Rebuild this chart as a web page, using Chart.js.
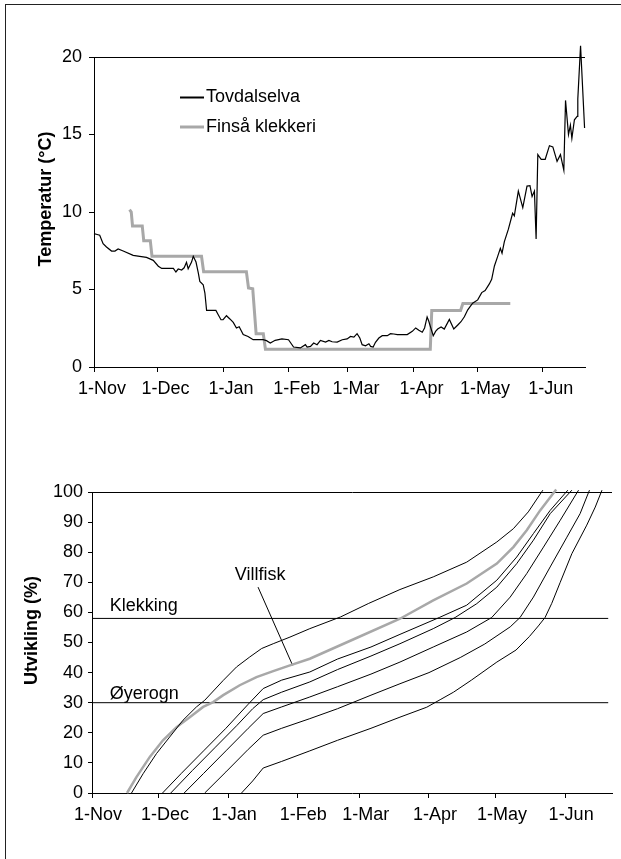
<!DOCTYPE html>
<html>
<head>
<meta charset="utf-8">
<title>Temperatur og utvikling</title>
<script src="https://cdn.jsdelivr.net/npm/chart.js@4.4.1/dist/chart.umd.min.js"></script>
<style>
  html, body { margin: 0; padding: 0; background: #fff; overflow: hidden; }
  #frame { position: absolute; left: 5px; top: 4px; width: 616px; height: 855px; border-top: 1px solid #222; border-left: 1px solid #222; }
  canvas { position: absolute; left: 0; }
  #tempChart { top: 0; }
  #devChart { top: 420px; }
</style>
</head>
<body>
<div id="frame"></div>
<canvas id="tempChart" width="621" height="420"></canvas>
<canvas id="devChart" width="621" height="439"></canvas>
<script>
Chart.defaults.font.family = "'Liberation Sans', Arial, sans-serif";
Chart.defaults.font.size = 18;
Chart.defaults.color = '#000';
Chart.defaults.animation = false;

// x values are days counted from 1 November
const monthDays = [0, 30, 61, 92, 120, 151, 181, 212];
const monthLabels = ['1-Nov', '1-Dec', '1-Jan', '1-Feb', '1-Mar', '1-Apr', '1-May', '1-Jun'];

// water temperature in Tovdalselva
const tovDays = [
  0, 1.5, 2.7, 4.3, 5.9, 8.3, 9.9, 11.4, 13.8, 18.5,
  21.6, 24.8, 28, 30.4, 32, 37.5, 38.7, 39.8, 41.4, 42.6,
  43.7, 44.5, 46.1, 46.9, 48.2, 49.3, 50, 51.6, 52.4, 53.2,
  57.6, 58.7, 60, 61, 62.6, 64.2, 65.8, 67.3, 68.6, 70.5,
  72.8, 75.2, 79.9, 81.5, 83.3, 85.6, 88.8, 91.9, 94.3, 97.5,
  99.9, 100.7, 102.3, 103.8, 105.4, 107, 109.4, 111, 112.5, 114.9,
  117.3, 119.6, 121.2, 122.8, 124.3, 125.6, 126.7, 128.3, 129.9, 130.7,
  131.9, 133, 134.6, 136.2, 138.6, 140.1, 141.7, 143.3, 148, 150.4,
  152, 153.5, 155.1, 156.2, 157.4, 158.2, 159, 160.3, 161.4, 162.4,
  164, 165.5, 167.9, 170, 171.9, 173.4, 175, 176.6, 178.9, 181.3,
  183.2, 184.8, 186.8, 187.9, 189.2, 190.7, 192, 192.8, 193.9, 195.8,
  197.8, 198.6, 200.5, 202.6, 204.6, 206, 207, 208.1, 208.9, 209.7,
  211.3, 213.2, 215.2, 216.8, 218.8, 220.4, 222, 222.8, 224.2, 225.1,
  225.8, 227, 228.3, 228.6, 229.9, 231.8
];
const tovTemp = [
  8.6, 8.55, 8.5, 7.96, 7.74, 7.48, 7.48, 7.61, 7.48, 7.2,
  7.14, 7.07, 6.88, 6.5, 6.36, 6.36, 6.13, 6.32, 6.26, 6.4,
  6.75, 6.34, 6.77, 7.14, 6.77, 6.06, 5.52, 5.31, 4.77, 3.65,
  3.65, 3.37, 3.05, 3.05, 3.31, 3.1, 2.88, 2.52, 2.6, 2.1,
  1.97, 1.76, 1.76, 1.7, 1.55, 1.72, 1.81, 1.76, 1.29, 1.23,
  1.44, 1.29, 1.33, 1.55, 1.44, 1.72, 1.61, 1.72, 1.63, 1.61,
  1.76, 1.81, 1.97, 1.93, 2.15, 1.87, 1.44, 1.37, 1.5, 1.33,
  1.29, 1.59, 1.87, 2.02, 2.02, 2.15, 2.13, 2.09, 2.09, 2.3,
  2.52, 2.37, 2.24, 2.52, 3.23, 2.95, 2.58, 2.02, 2.3, 2.45,
  2.58, 2.45, 3.07, 2.45, 2.71, 2.92, 3.24, 3.69, 4.12, 4.33,
  4.8, 4.93, 5.36, 5.66, 6.52, 7.12, 7.66, 7.34, 8.09, 8.89,
  9.92, 9.75, 11.35, 10.28, 11.67, 11.7, 11.0, 11.35, 8.26, 13.7,
  13.4, 13.4, 14.28, 14.2, 13.27, 13.7, 12.69, 17.2, 14.99, 15.6,
  14.75, 15.95, 16.17, 17.3, 20.73, 15.42
];

// hatchery water temperature, Finså klekkeri
const finDays = [16.8, 17.6, 18.2, 22.8, 23.5, 26.6, 27.4, 50.8, 51.8, 72.0,
                 73.0, 75.0, 76.6, 80.0, 81.0, 158.9, 159.6, 173.2, 174.3, 196.7];
const finTemp = [10.15, 10.0, 9.1, 9.1, 8.15, 8.15, 7.15, 7.15, 6.15, 6.15,
                 5.1, 5.05, 2.15, 2.15, 1.15, 1.15, 3.65, 3.65, 4.1, 4.1];

// development (%) of eggs spawned on different dates
const devADays = [17.7, 22.9, 28.9, 34.8, 40.8, 46.8, 50.5, 58.8, 64.8, 70.7, 76, 81.2, 88.7, 97.6, 111.4, 124, 138, 152.9, 167.9, 181.4, 188.8, 195.5, 202];
const devAPct  = [0, 6.4, 13.1, 18.6, 24.2, 28.6, 30.8, 37.4, 41.9, 45.2, 48, 49.6, 51.8, 54.6, 58.5, 63, 67.6, 71.8, 76.7, 83.4, 87.8, 93.4, 100.6];
const devBDays = [31.6, 40, 50, 60, 70, 76.7, 85, 97.6, 110, 125, 138, 155.6, 167.9, 181.4, 190.3, 197.8, 205.3, 213.2];
const devBPct  = [0, 6.5, 14, 21.5, 29.5, 34.7, 37.5, 40.2, 44.5, 48.5, 52.7, 58.3, 62.4, 70.7, 78.4, 86.2, 93.9, 100.6];
const devCDays = [35.3, 45, 55, 65, 72, 76.7, 85, 97.6, 110, 125, 138, 152.9, 162.7, 172.4, 181.4, 190.3, 197.8, 205.3, 215];
const devCPct  = [0, 7.5, 15, 22.5, 28, 31, 33.5, 36.9, 41, 45.5, 49.6, 54.6, 58.3, 62.9, 68.4, 76.2, 84, 92.8, 100.6];
const devDDays = [41.3, 50, 60, 70, 76.7, 85, 97.6, 110, 125, 138, 152.9, 167.9, 179.1, 187.4, 194.8, 202.3, 209.8, 218];
const devDPct  = [0, 6.5, 14, 21.5, 26.4, 28.6, 31.9, 35.3, 39.5, 43.5, 48.5, 53.5, 58.3, 65.1, 72.9, 81.7, 90.6, 100.6];
const devEDays = [50.5, 60, 70, 76.7, 85, 97.6, 110, 125, 138, 151, 165, 176, 187.4, 191.8, 197.8, 205.3, 212.8, 218.7, 222.9];
const devEPct  = [0, 7, 14.5, 19.2, 21.5, 24.7, 28, 32.5, 36.3, 40, 45, 49.5, 55.2, 58.3, 65.1, 75.1, 85, 92.8, 100.6];
const devFDays = [67, 72, 76.7, 85, 97.6, 110, 125, 138, 150, 156, 162, 170, 181.4, 190, 196, 200, 203, 206, 209.8, 215, 221.7, 225.5, 228.5];
const devFPct  = [0, 4, 8.3, 10.5, 14, 17.5, 21.5, 25.2, 28.5, 31, 33.5, 37.5, 43.5, 47.5, 52, 55.5, 58.3, 63, 70, 79.5, 89, 95, 100.6];
const villDays = [15.7, 19.9, 25.9, 31.8, 37.9, 43.8, 49.8, 54.3, 58.8, 66.2, 73.7, 81.2, 88.7, 97.6, 117, 138, 152.9, 167.9, 181.4, 188.8, 194.8, 200.8, 208];
const villPct  = [0, 5.3, 12, 17.5, 21.9, 25.2, 28.6, 30.2, 32.5, 35.8, 38.5, 40.5, 42.4, 44.6, 51, 57.9, 64, 69.6, 76.2, 81.7, 87.3, 93.9, 100.8];

// stage levels and text notes in the development chart
const stageLevels = [58, 30];
const stageEndDay = 231.3;
const noteText = ['Klekking', 'Øyerogn', 'Villfisk'];
const noteDay = [7.9, 7.9, 64];
const notePct = [60.5, 31.1, 70.8];
const pointerDays = [74.4, 89.9];
const pointerPct = [68.4, 42.4];

const toPoints = (xs, ys) => xs.map((d, i) => ({ x: d, y: ys[i] }));

function monthAxis(max, height, pad, shift) {
  return {
    type: 'linear',
    min: 0,
    max: max,
    afterBuildTicks: s => { s.ticks = monthDays.map(v => ({ value: v })); },
    afterFit: s => { s.height = height; },
    ticks: { autoSkip: false, maxRotation: 0, padding: pad, labelOffset: shift,
             callback: (v, i) => monthLabels[i] },
    grid: { drawOnChartArea: false, color: '#000', tickColor: '#000', tickLength: 5 },
    border: { color: '#000', width: 1 }
  };
}

// rotated bold y axis title
const axisTitle = {
  id: 'axisTitle',
  afterDraw(chart, args, o) {
    const { ctx, chartArea } = chart;
    ctx.save();
    ctx.translate(o.x, (chartArea.top + chartArea.bottom) / 2 + o.dy);
    ctx.rotate(-Math.PI / 2);
    ctx.font = "bold 18px 'Liberation Sans', Arial, sans-serif";
    ctx.fillStyle = '#000';
    ctx.textAlign = 'center';
    ctx.textBaseline = 'middle';
    ctx.fillText(o.text, 0, 0);
    ctx.restore();
  }
};

// line legend inside the plot area
const lineKey = {
  id: 'lineKey',
  afterDraw(chart) {
    const { ctx, chartArea } = chart;
    const x0 = chartArea.left + 86;
    let y = chartArea.top + 40.5;
    ctx.save();
    ctx.font = "18px 'Liberation Sans', Arial, sans-serif";
    ctx.textBaseline = 'middle';
    ctx.fillStyle = '#000';
    chart.data.datasets.forEach(ds => {
      ctx.strokeStyle = ds.borderColor;
      ctx.lineWidth = Math.max(ds.borderWidth, 2);
      ctx.beginPath();
      ctx.moveTo(x0, y);
      ctx.lineTo(x0 + 24, y);
      ctx.stroke();
      ctx.fillText(ds.label, x0 + 26, y);
      y += 29.5;
    });
    ctx.restore();
  }
};

// free text placed at data coordinates
const notes = {
  id: 'notes',
  afterDraw(chart) {
    const { ctx, scales } = chart;
    ctx.save();
    ctx.font = "18px 'Liberation Sans', Arial, sans-serif";
    ctx.fillStyle = '#000';
    ctx.textAlign = 'left';
    ctx.textBaseline = 'alphabetic';
    noteText.forEach((t, i) => {
      ctx.fillText(t, scales.x.getPixelForValue(noteDay[i]), scales.y.getPixelForValue(notePct[i]));
    });
    ctx.restore();
  }
};

new Chart(document.getElementById('tempChart'), {
  type: 'line',
  data: {
    datasets: [
      { label: 'Tovdalselva', data: toPoints(tovDays, tovTemp), borderColor: '#000', borderWidth: 1.2, pointRadius: 0, clip: false },
      { label: 'Finså klekkeri', data: toPoints(finDays, finTemp), borderColor: '#a8a8a8', borderWidth: 3, pointRadius: 0, clip: false }
    ]
  },
  options: {
    responsive: false,
    devicePixelRatio: 1,
    layout: { padding: { top: 57, right: 36, bottom: 0, left: 0 } },
    plugins: {
      legend: { display: false },
      tooltip: { enabled: false },
      axisTitle: { text: 'Temperatur (°C)', x: 46, dy: -13 }
    },
    scales: {
      x: monthAxis(232, 53, 6, 8),
      y: {
        min: 0,
        max: 20,
        afterFit: s => { s.width = 94; },
        ticks: { stepSize: 5, padding: 7 },
        grid: { color: c => (c.tick && c.tick.value === 20 ? '#000' : 'transparent'), tickColor: '#000', tickLength: 5 },
        border: { color: '#000', width: 1 }
      }
    }
  },
  plugins: [axisTitle, lineKey]
});

const curve = (xs, ys) => ({ data: toPoints(xs, ys), borderColor: '#000', borderWidth: 1, pointRadius: 0, clip: false });

new Chart(document.getElementById('devChart'), {
  type: 'line',
  data: {
    datasets: [
      curve(devADays, devAPct),
      curve(devBDays, devBPct),
      curve(devCDays, devCPct),
      curve(devDDays, devDPct),
      curve(devEDays, devEPct),
      curve(devFDays, devFPct),
      { label: 'Villfisk', data: toPoints(villDays, villPct), borderColor: '#a8a8a8', borderWidth: 2.5, pointRadius: 0, clip: false },
      curve([0, stageEndDay], [stageLevels[0], stageLevels[0]]),
      curve([0, stageEndDay], [stageLevels[1], stageLevels[1]]),
      curve(pointerDays, pointerPct)
    ]
  },
  options: {
    responsive: false,
    devicePixelRatio: 1,
    layout: { padding: { top: 72, right: 9, bottom: 0, left: 0 } },
    plugins: {
      legend: { display: false },
      tooltip: { enabled: false },
      axisTitle: { text: 'Utvikling (%)', x: 32, dy: -12 }
    },
    scales: {
      x: monthAxis(233, 66, 6, 6),
      y: {
        min: 0,
        max: 100,
        afterFit: s => { s.width = 92; },
        ticks: { stepSize: 10, padding: 5 },
        grid: { color: c => (c.tick && c.tick.value === 100 ? '#000' : 'transparent'), tickColor: '#000', tickLength: 4 },
        border: { color: '#000', width: 1 }
      }
    }
  },
  plugins: [axisTitle, notes]
});
</script>
</body>
</html>
